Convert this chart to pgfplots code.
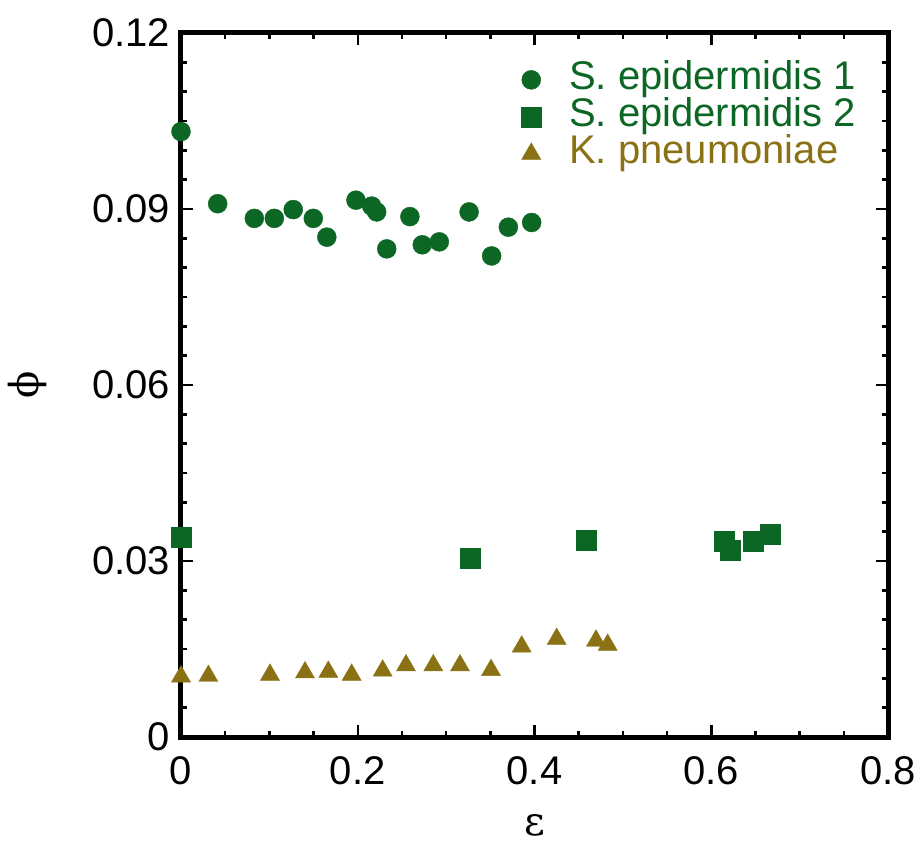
\documentclass[border=0pt]{standalone}
\usepackage{fontspec}
\setmainfont{Liberation Sans}
\newfontfamily\grk{DejaVu Serif}
\usepackage{pgfplots}
\pgfplotsset{compat=1.18}
\definecolor{sgreen}{RGB}{12,102,36}
\definecolor{kolive}{RGB}{138,114,20}
\begin{document}
\begin{tikzpicture}
\useasboundingbox (-181pt,-119pt) rectangle (736pt,737pt);
\begin{axis}[
  at={(0pt,0pt)}, anchor=south west,
  scale only axis, width=707pt, height=704pt,
  xmin=0, xmax=0.8, ymin=0, ymax=0.12,
  xtick={0,0.2,0.4,0.6,0.8}, xticklabels={0,0.2,0.4,0.6,0.8},
  ytick={0,0.03,0.06,0.09,0.12}, yticklabels={0,0.03,0.06,0.09,0.12},
  minor x tick num=3, minor y tick num=5,
  tick align=inside, tick pos=both,
  major tick length=12pt, minor tick length=6pt,
  every tick/.style={line width=2.5pt, black},
  axis line style={line width=5pt},
  ticklabel style={font=\fontsize{40}{44}\selectfont},
  xticklabel style={yshift=-16.5pt},
  yticklabel style={xshift=-7.5pt},
  xlabel={\fontsize{40}{44}\selectfont\grk ε},
  ylabel={\fontsize{40}{44}\selectfont\grk ϕ},
  every axis y label/.style={at={(axis description cs:-0.217,0.5)}, rotate=90, anchor=center, font=\fontsize{40}{44}\selectfont},
  every axis x label/.style={at={(axis description cs:0.5,-0.125)}, anchor=center, font=\fontsize{40}{44}\selectfont},
  clip=false,
  legend image code/.code={\draw[#1] plot coordinates {(0pt,0pt)};},
  legend style={at={(axis description cs:0.481,0.96)}, anchor=north west,
    draw=none, fill=none, inner sep=0pt, row sep=0pt, column sep=28pt,
    font=\fontsize{40}{44}\selectfont,
    nodes={inner sep=0pt, text height=28pt, text depth=9pt}},
  legend cell align=left,
]
\addplot[only marks, mark=*, mark size=9.5pt, color=sgreen] coordinates {
(0,0.1032) (0.0415,0.0909) (0.083,0.0884) (0.1056,0.0884) (0.127,0.0899)
(0.1497,0.0884) (0.165,0.0852) (0.198,0.0915) (0.2158,0.0905) (0.2214,0.0895)
(0.2328,0.0832) (0.259,0.0887) (0.273,0.0839) (0.2923,0.0844) (0.326,0.0895)
(0.3515,0.0820) (0.3704,0.0869) (0.3968,0.0877)
};
\addlegendentry{\textcolor{sgreen}{S. epidermidis 1}}
\addplot[only marks, mark=square*, mark size=10pt, color=sgreen] coordinates {
(0,0.0340) (0.327,0.0305) (0.458,0.0336) (0.6148,0.0333) (0.622,0.0318)
(0.6476,0.0333) (0.6672,0.0346)
};
\addlegendentry{\textcolor{sgreen}{S. epidermidis 2}}
\addplot[only marks, mark=triangle*, mark size=11pt, color=kolive] coordinates {
(0,0.0103) (0.031,0.0104) (0.1007,0.0106) (0.1403,0.0110) (0.1667,0.0111)
(0.1931,0.0106) (0.2282,0.0113) (0.2546,0.0122) (0.2855,0.0122) (0.3157,0.0122)
(0.3508,0.0114) (0.3855,0.0154) (0.4251,0.0167) (0.4696,0.0164) (0.4828,0.0157)
};
\addlegendentry{\textcolor{kolive}{K. pneumoniae}}
\end{axis}
\end{tikzpicture}
\end{document}
